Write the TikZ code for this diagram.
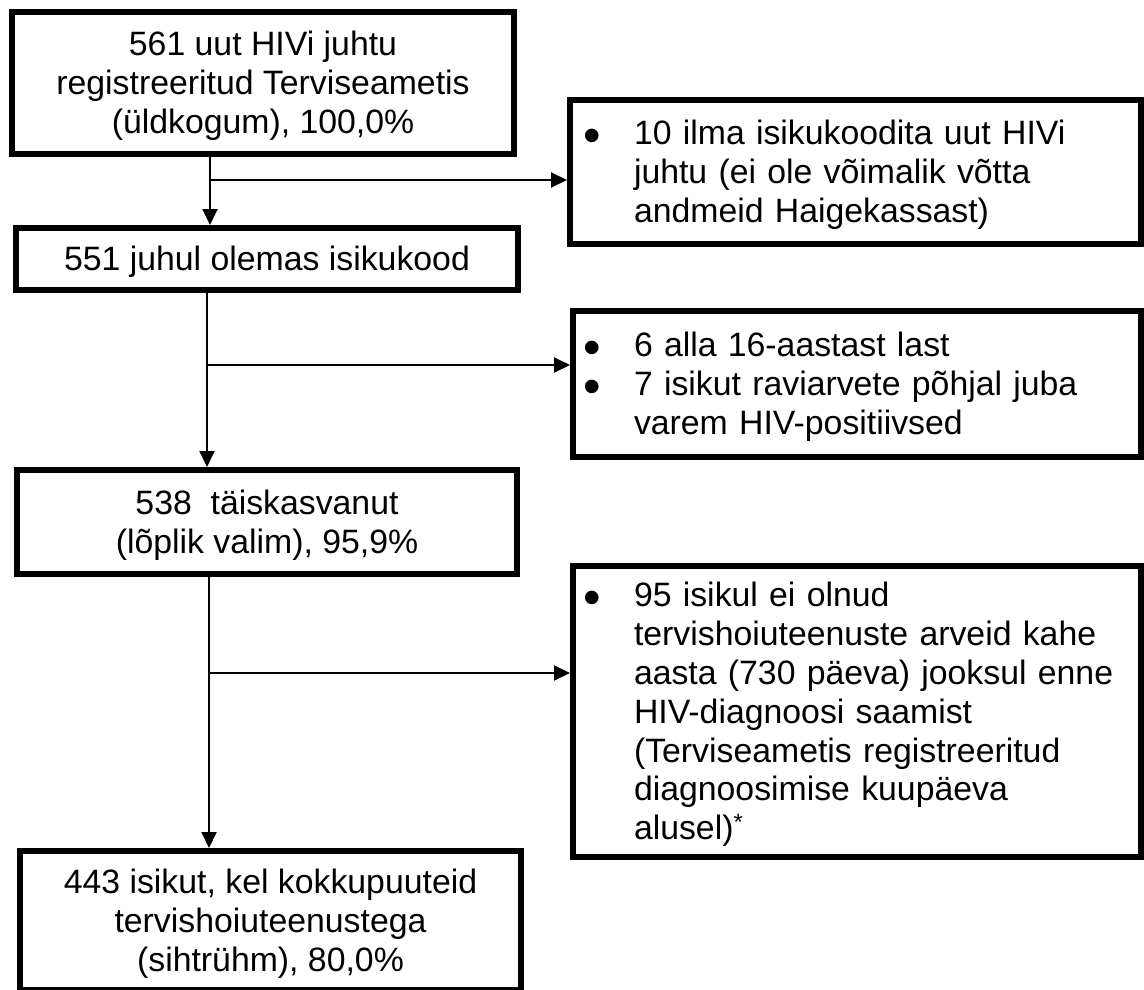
\documentclass[tikz,border=0pt]{standalone}
\usepackage{fontspec}
\setmainfont{Liberation Sans}
\usetikzlibrary{arrows.meta}
\newcommand\mys{\rule[-7.2pt]{0pt}{37.8pt}}
\newcommand\blt{\makebox[54pt][l]{\hspace*{3pt}\raisebox{-7.5pt}[0pt][0pt]{\fontsize{50}{50}\selectfont •}}}
\newcommand\ind{\hspace*{54pt}}
\begin{document}
\begin{tikzpicture}[x=1pt,y=-1pt,
  box/.style={draw, line width=6pt, inner sep=0pt, font=\fontsize{33.8}{38.8}\selectfont},
  ctr/.style={box, align=center},
  lst/.style={box, align=left},
  arr/.style={line width=2pt, -{Triangle[length=16pt,width=15pt]}}]
\useasboundingbox (0,0) rectangle (1144,990);
\node[ctr, minimum width=502pt, minimum height=142pt] (b1) at (263,83)
  {\mys 561 uut HIVi juhtu\\ \mys registreeritud Terviseametis\\ \mys (üldkogum), 100,0\%};
\node[ctr, minimum width=502pt, minimum height=62pt] (b3) at (267,259)
  {\mys 551 juhul olemas isikukood};
\node[ctr, minimum width=500pt, minimum height=104pt] (b5) at (267,522)
  {\mys 538\ \ täiskasvanut\\ \mys (lõplik valim), 95,9\%};
\node[ctr, minimum width=501pt, minimum height=139pt] (b7) at (270.5,920.5)
  {\mys 443 isikut, kel kokkupuuteid\\ \mys tervishoiuteenustega\\ \mys (sihtrühm), 80,0\%};
\node[lst, minimum width=571pt, minimum height=144pt, text width=551pt] (b2) at (855.5,172)
  {\blt\mys 10 ilma isikukoodita uut HIVi\\ \ind\mys juhtu (ei ole võimalik võtta\\ \ind\mys andmeid Haigekassast)};
\node[lst, minimum width=568pt, minimum height=146pt, text width=554pt] (b4) at (857,384)
  {\blt\mys 6 alla 16-aastast last\\ \blt\mys 7 isikut raviarvete põhjal juba\\ \ind\mys varem HIV-positiivsed};
\node[lst, minimum width=568pt, minimum height=291pt, text width=554pt] (b6) at (857,711.5)
  {\blt\mys 95 isikul ei olnud\\ \ind\mys tervishoiuteenuste arveid kahe\\ \ind\mys aasta (730 päeva) jooksul enne\\ \ind\mys HIV-diagnoosi saamist\\ \ind\mys (Terviseametis registreeritud\\ \ind\mys diagnoosimise kuupäeva\\ \ind\mys alusel)\textsuperscript{*}};
\coordinate (v1) at (210,180);
\coordinate (v2) at (207,365);
\coordinate (v3) at (209,673);
\draw[arr] (b1.south -| v1) -- (b3.north -| v1);
\draw[arr] (v1) -- (v1 -| b2.west);
\draw[arr] (b3.south -| v2) -- (b5.north -| v2);
\draw[arr] (v2) -- (v2 -| b4.west);
\draw[arr] (b5.south -| v3) -- (b7.north -| v3);
\draw[arr] (v3) -- (v3 -| b6.west);
\end{tikzpicture}
\end{document}
